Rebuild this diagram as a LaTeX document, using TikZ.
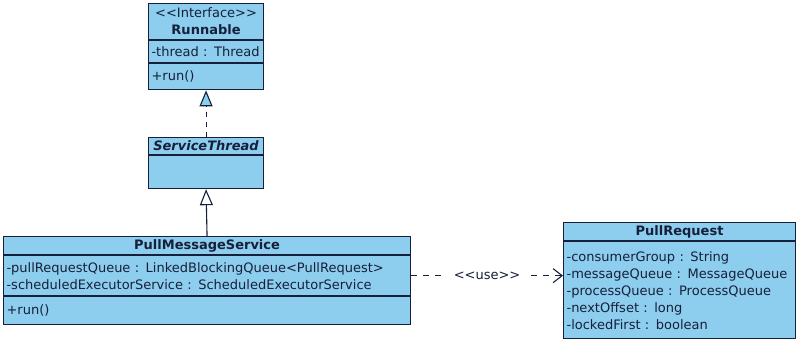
\documentclass[tikz,border=0pt]{standalone}
\usepackage{fontspec}
\setmainfont{DejaVu Sans}[Ligatures=TeXOff]
\usetikzlibrary{arrows.meta, positioning}
\definecolor{umlblue}{RGB}{141,205,238}
\definecolor{umlink}{RGB}{22,32,58}

\begin{document}
\begin{tikzpicture}[
  x=1pt, y=-1pt,
  every node/.style={font=\fontsize{13}{17}\selectfont, text=umlink},
  part/.style={rectangle, draw=umlink, fill=umlblue, line width=1.1pt,
               text width=#1, inner xsep=3pt, inner ysep=1pt, align=left},
  head/.style={part=#1, align=center},
  realize/.style={draw=umlink, line width=1.1pt, dash pattern=on 5pt off 5pt,
                  -{Triangle[fill=umlblue, length=16pt, width=13pt]}},
  extend/.style={draw=umlink, line width=1.1pt,
                 -{Triangle[fill=white, length=16pt, width=13pt]}},
  depend/.style={draw=umlink, line width=1.1pt, dash pattern=on 6pt off 6pt,
                 -{Straight Barb[length=9pt, width=14pt]}}
]
\useasboundingbox (0,0) rectangle (800,341);

% interface
\node[head=109pt, minimum height=36pt, anchor=north west] (runHead) at (148,3)
  {<<Interface>>\\\textbf{Runnable}};
\node[part=109pt, minimum height=22pt, below=0pt of runHead] (runAttr) {-thread : Thread};
\node[part=109pt, minimum height=26pt, below=0pt of runAttr] (runOps) {+run()};

% abstract class
\node[head=109pt, minimum height=17pt, anchor=north west] (stHead) at (148,137)
  {\textbf{\textit{ServiceThread}}};
\node[part=109pt, minimum height=33pt, below=0pt of stHead] (stBody) {};

% service
\node[head=401pt, minimum height=18pt, anchor=north west] (pmsHead) at (3,236)
  {\textbf{PullMessageService}};
\node[part=401pt, minimum height=40pt, below=0pt of pmsHead] (pmsAttr)
  {-pullRequestQueue : LinkedBlockingQueue<PullRequest>\\
   -scheduledExecutorService : ScheduledExecutorService};
\node[part=401pt, minimum height=28pt, below=0pt of pmsAttr] (pmsOps) {+run()};

% request
\node[head=226pt, minimum height=18pt, anchor=north west] (prHead) at (563,222)
  {\textbf{PullRequest}};
\node[part=226pt, minimum height=97pt, below=0pt of prHead] (prAttr)
  {-consumerGroup : String\\
   -messageQueue : MessageQueue\\
   -processQueue : ProcessQueue\\
   -nextOffset : long\\
   -lockedFirst : boolean};

\draw[realize] (stHead.north) -- (runOps.south);
\draw[extend] (pmsHead.north) -- (stBody.south);
\draw[depend] (pmsAttr.east) -- (pmsAttr.east -| prAttr.west)
  node[midway, fill=white, inner xsep=10pt] {<<use>>};
\end{tikzpicture}
\end{document}
